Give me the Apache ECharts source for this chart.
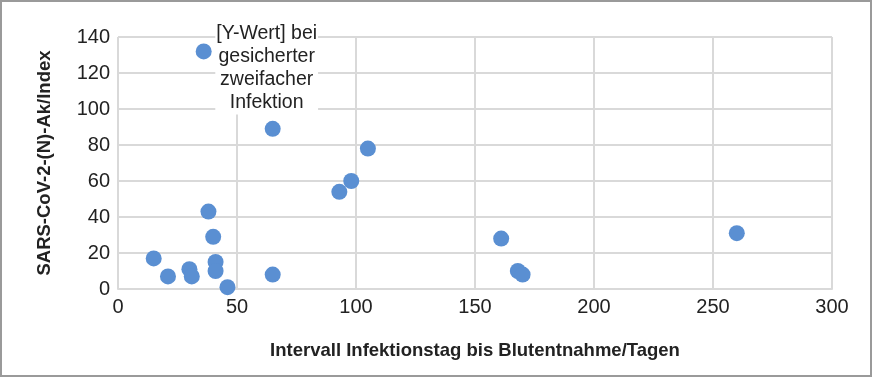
<!DOCTYPE html>
<html>
<head>
<meta charset="utf-8">
<script src="https://cdn.jsdelivr.net/npm/echarts@6/dist/echarts.min.js"></script>
<style>
  html, body { margin: 0; padding: 0; background: #fff; }
  #chart { width: 872px; height: 377px; box-sizing: border-box; border: 2px solid #9a9a9a; }
</style>
</head>
<body>
<div id="chart"></div>
<script>
// Intervall (Tage) und Ak/Index
const tage = [36, 65, 105, 98, 93, 38, 40, 15, 21, 30, 31, 41, 41, 46, 65, 161, 168, 170, 260];
const index = [132, 89, 78, 60, 54, 43, 29, 17, 7, 11, 7, 15, 10, 1, 8, 28, 10, 8, 31];
const xTicks = [0, 50, 100, 150, 200, 250, 300];
const yTicks = [0, 20, 40, 60, 80, 100, 120, 140];
const labelText = '[Y-Wert] bei\ngesicherter\nzweifacher\nInfektion';

const font = '"Liberation Sans", Arial, sans-serif';

var chartDom = document.getElementById('chart');
var myChart = echarts.init(chartDom);

let points = tage.map((t, i) => {
    let p = { value: [t, index[i]] };
    if (i === 0) {
        p.label = {
            show: true,
            position: 'right',
            offset: [50, 17],
            formatter: labelText,
            align: 'center',
            color: '#222',
            fontSize: 19.5,
            lineHeight: 23,
            fontFamily: font,
            backgroundColor: '#fff',
            padding: [0, 1]
        };
    }
    return p;
});

var option = {
    animation: false,
    grid: { left: 116, right: 38, top: 35, bottom: 86 },
    xAxis: {
        type: 'value',
        min: xTicks[0],
        max: xTicks[xTicks.length - 1],
        interval: 50,
        name: 'Intervall Infektionstag bis Blutentnahme/Tagen',
        nameLocation: 'middle',
        nameGap: 52,
        nameTextStyle: { fontFamily: font, fontWeight: 'bold', fontSize: 18.5, color: '#222' },
        axisLine: { show: true, lineStyle: { color: '#d9d9d9', width: 2 } },
        axisTick: { show: false },
        axisLabel: { fontFamily: font, fontSize: 20, color: '#222', margin: 8 },
        splitLine: { show: true, lineStyle: { color: '#d9d9d9', width: 2 } }
    },
    yAxis: {
        type: 'value',
        min: yTicks[0],
        max: yTicks[yTicks.length - 1],
        interval: 20,
        name: 'SARS-CoV-2-(N)-Ak/Index',
        nameLocation: 'middle',
        nameGap: 64,
        nameTextStyle: { fontFamily: font, fontWeight: 'bold', fontSize: 18.5, color: '#222' },
        axisLine: { show: false },
        axisTick: { show: false },
        axisLabel: { fontFamily: font, fontSize: 20, color: '#222', margin: 8 },
        splitLine: { show: true, lineStyle: { color: '#d9d9d9', width: 2 } }
    },
    series: [
        {
            type: 'scatter',
            symbolSize: 16,
            itemStyle: { color: '#5a8fd2', opacity: 1 },
            data: points,
            z: 3
        }
    ]
};
option && myChart.setOption(option);
</script>
</body>
</html>
